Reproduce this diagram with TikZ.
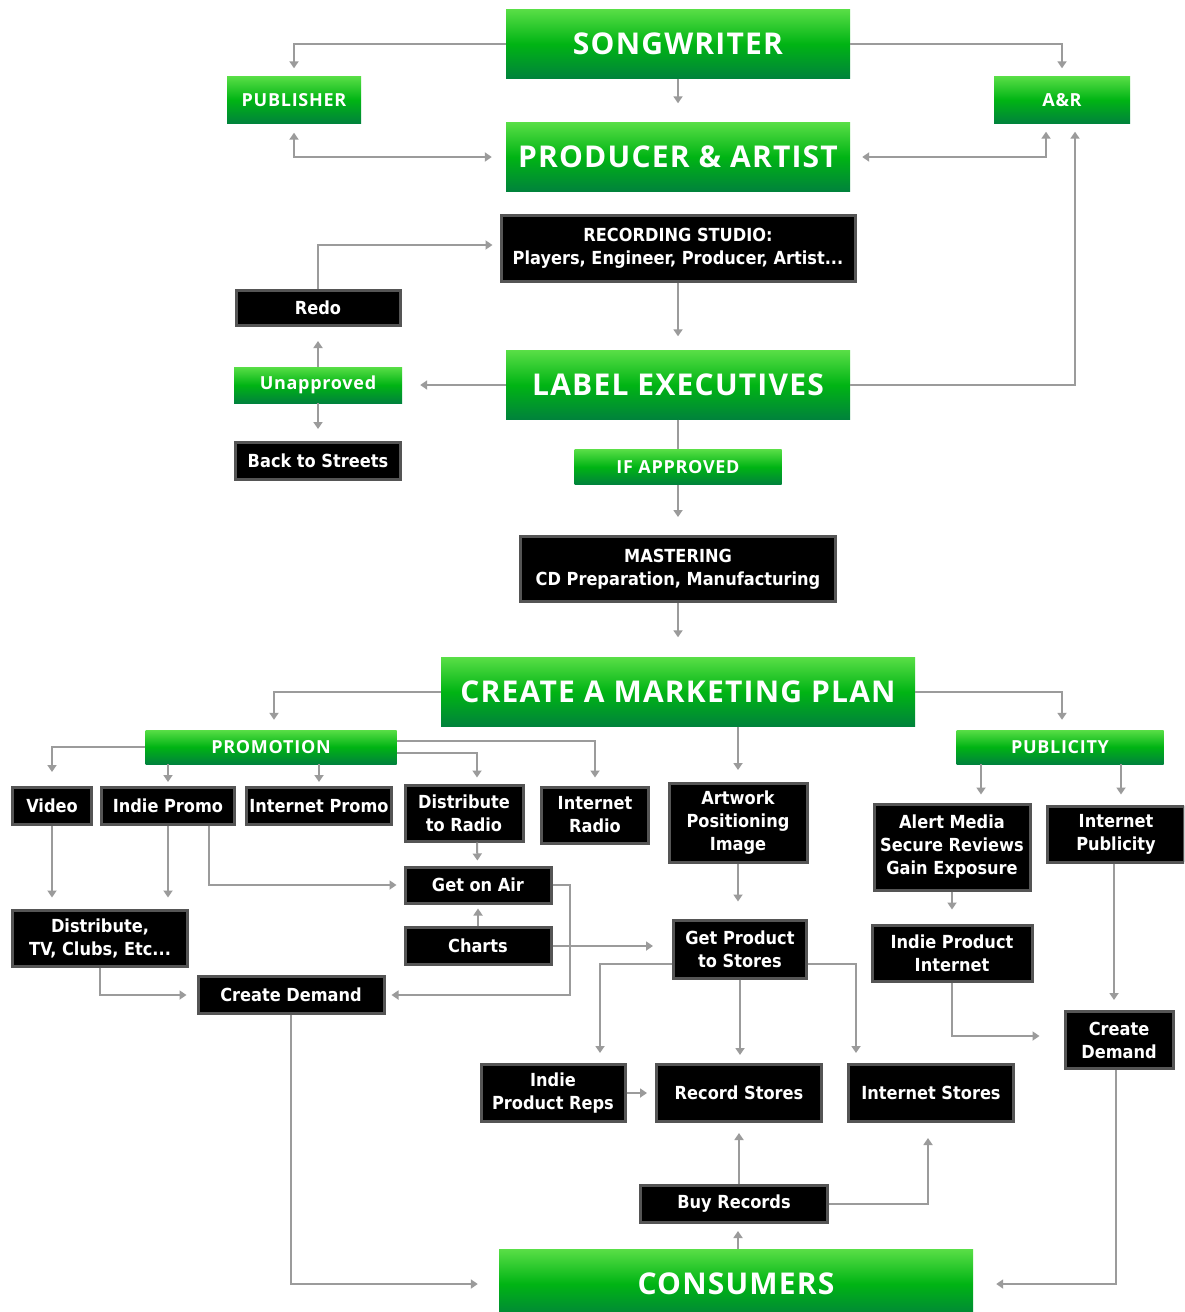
\documentclass[tikz,border=0pt]{standalone}
\usepackage{fontspec}
\setmainfont{DejaVu Sans}
\newfontfamily\titlefont[LetterSpace=4]{Open Sans}
\newfontfamily\boxfont{DejaVu Sans Condensed}
\usetikzlibrary{arrows.meta}

\definecolor{gtop}{RGB}{88,222,70}
\definecolor{gmid}{RGB}{0,180,20}
\definecolor{gbot}{RGB}{0,130,60}
\definecolor{edge}{RGB}{85,85,85}
\definecolor{wire}{RGB}{155,155,155}

\begin{document}
\begin{tikzpicture}[x=1pt,y=-1pt,
    gbox/.style={shading=axis,top color=gtop,bottom color=gbot,middle color=gmid,
        text=white,inner sep=0pt,align=center},
    gbig/.style={gbox,minimum width=344pt,minimum height=69pt,
        font=\titlefont\bfseries\fontsize{30}{36}\selectfont},
    gsmall/.style={gbox,font=\titlefont\bfseries\fontsize{18}{22}\selectfont},
    bbox/.style={fill=black,draw=edge,line width=3pt,text=white,inner sep=0pt,
        align=center,font=\boxfont\bfseries\fontsize{18}{23}\selectfont},
    arr/.style={draw=wire,line width=2pt,-{Triangle[width=9pt,length=7pt]},shorten >=8pt},
    darr/.style={arr,{Triangle[width=9pt,length=7pt]}-{Triangle[width=9pt,length=7pt]},shorten <=9pt},
    ]
    \useasboundingbox (0,0) rectangle (1184,1312);
    \clip (0,0) rectangle (1184,1312);
    \fill[white] (0,0) rectangle (1184,1312);

    % top: writing and recording
    \node[gbig] (song) at (678,44) {SONGWRITER};
    \node[gsmall,minimum width=134pt,minimum height=47pt] (pub) at (294,100) {PUBLISHER};
    \node[gsmall,minimum width=136pt,minimum height=47pt] (anr) at (1062,100) {A\&R};
    \node[gbig] (prod) at (678,157) {PRODUCER \& ARTIST};
    \node[bbox,minimum width=354pt,minimum height=66pt] (studio) at (678,248)
        {RECORDING STUDIO:\\Players, Engineer, Producer, Artist...};
    \node[bbox,minimum width=164pt,minimum height=35pt] (redo) at (318,308) {Redo};
    \node[gbig] (label) at (678,385) {LABEL EXECUTIVES};
    \node[gsmall,minimum width=168pt,minimum height=36pt] (unappr) at (318,385) {Unapproved};
    \node[bbox,minimum width=165pt,minimum height=37pt] (back) at (318,461) {Back to Streets};
    \node[gsmall,minimum width=207pt,minimum height=35pt] (ifappr) at (678,467) {IF APPROVED};
    \node[bbox,minimum width=315pt,minimum height=65pt] (master) at (678,569)
        {MASTERING\\CD Preparation, Manufacturing};

    % marketing
    \node[gbig,minimum width=474pt] (plan) at (678,692) {CREATE A MARKETING PLAN};
    \node[gsmall,minimum width=251pt,minimum height=34pt] (promo) at (271,747) {PROMOTION};
    \node[gsmall,minimum width=207pt,minimum height=34pt] (publ) at (1060,747) {PUBLICITY};
    \node[bbox,minimum width=79pt,minimum height=37pt] (video) at (52,806) {Video};
    \node[bbox,minimum width=133pt,minimum height=37pt] (ipromo) at (168,806) {Indie Promo};
    \node[bbox,minimum width=145pt,minimum height=37pt] (netpromo) at (319,806) {Internet Promo};
    \node[bbox,minimum width=118pt,minimum height=56pt] (dradio) at (464,813) {Distribute\\to Radio};
    \node[bbox,minimum width=107pt,minimum height=56pt] (netradio) at (595,815) {Internet\\Radio};
    \node[bbox,minimum width=138pt,minimum height=79pt] (artwork) at (738,823) {Artwork\\Positioning\\Image};
    \node[bbox,minimum width=156pt,minimum height=86pt] (alert) at (952,847)
        {Alert Media\\Secure Reviews\\Gain Exposure};
    \node[bbox,minimum width=137pt,minimum height=56pt] (netpubl) at (1116,834) {Internet\\Publicity};
    \node[bbox,minimum width=175pt,minimum height=56pt] (distv) at (100,938) {Distribute,\\TV, Clubs, Etc...};
    \node[bbox,minimum width=146pt,minimum height=36pt] (onair) at (478,885) {Get on Air};
    \node[bbox,minimum width=146pt,minimum height=37pt] (charts) at (478,946) {Charts};
    \node[bbox,minimum width=133pt,minimum height=58pt] (stores) at (740,949) {Get Product\\to Stores};
    \node[bbox,minimum width=160pt,minimum height=56pt] (ipinet) at (952,953) {Indie Product\\Internet};
    \node[bbox,minimum width=186pt,minimum height=37pt] (cdl) at (291,995) {Create Demand};
    \node[bbox,minimum width=108pt,minimum height=57pt] (cdr) at (1119,1040) {Create\\Demand};

    % selling
    \node[bbox,minimum width=144pt,minimum height=57pt] (reps) at (553,1093) {Indie\\Product Reps};
    \node[bbox,minimum width=165pt,minimum height=57pt] (recst) at (739,1093) {Record Stores};
    \node[bbox,minimum width=165pt,minimum height=57pt] (netst) at (931,1093) {Internet Stores};
    \node[bbox,minimum width=187pt,minimum height=37pt] (buy) at (734,1204) {Buy Records};
    \node[gbig,minimum width=474pt] (cons) at (736,1284) {CONSUMERS};

    % connectors, top half
    \draw[arr] (song.west) -| (pub.north);
    \draw[arr] (song.east) -| (anr.north);
    \draw[arr,shorten >=19pt] (song) -- (prod);
    \draw[darr,shorten >=14pt] (pub.south) |- (prod.west);
    \draw[darr,shorten <=12pt] (prod.east) -| ([xshift=-16pt]anr.south);
    \draw[arr] (label.east) -| ([xshift=13pt]anr.south);
    \draw[arr,shorten >=14pt] (studio) -- (label);
    \draw[arr,shorten >=7pt] (redo.north) |- ([yshift=3pt]studio.west);
    \draw[arr,shorten >=18pt] (label) -- (unappr);
    \draw[arr,shorten >=14pt] (unappr) -- (redo);
    \draw[arr,shorten >=12pt] (unappr) -- (back);
    \draw[draw=wire,line width=2pt] (label) -- (ifappr);
    \draw[arr,shorten >=18pt] (ifappr) -- (master);
    \draw[arr,shorten >=20pt] (master) -- (plan);

    % connectors, marketing
    \draw[arr,shorten >=10pt] (plan.west) -| ([xshift=3pt]promo.north);
    \draw[arr,shorten >=10pt] (plan.east) -| ([xshift=2pt]publ.north);
    \draw[arr,shorten >=12pt] (artwork.north |- plan.south) -- (artwork.north);
    \draw[arr,shorten >=14pt] (promo.west) -| (video.north);
    \draw[arr,shorten >=4pt] (ipromo.north |- promo.south) -- (ipromo.north);
    \draw[arr,shorten >=4pt] (netpromo.north |- promo.south) -- (netpromo.north);
    \draw[arr,shorten >=6pt] ([yshift=-6pt]promo.east) -| ([xshift=13pt]dradio.north);
    \draw[arr] ([yshift=6pt]promo.east) -| (netradio.north);
    \draw[arr,shorten >=11pt] (video.south) -- (video.south |- distv.north);
    \draw[arr,shorten >=11pt] (ipromo.south) -- (ipromo.south |- distv.north);
    \draw[arr,shorten >=7pt] ([xshift=41pt]ipromo.south) |- (onair.west);
    \draw[arr,shorten >=5pt] ([xshift=13pt]dradio.south) -- (onair);
    \draw[arr,shorten >=4pt] (charts) -- (onair);
    \draw[arr,shorten >=6pt] (onair.east) -- ++(17,0) |- (cdl.east);
    \draw[arr,shorten >=19pt] (charts.east) -- (charts.east -| stores.west);
    \draw[arr,shorten >=10pt] (distv.south) |- (cdl.west);
    \draw[arr,shorten >=17pt] (artwork.south) -- (artwork.south |- stores.north);
    \draw[arr] ([xshift=-79pt]publ.south) -- ([xshift=-79pt]publ.south |- alert.north);
    \draw[arr,shorten >=10pt] ([xshift=61pt]publ.south) -- ([xshift=61pt]publ.south |- netpubl.north);
    \draw[arr,shorten >=14pt] (alert) -- (ipinet);
    \draw[arr,shorten >=10pt] ([xshift=-2pt]netpubl.south) -- ([xshift=-2pt]netpubl.south |- cdr.north);
    \draw[arr,shorten >=24pt] (ipinet.south) |- ([yshift=4pt]cdr.west);

    % connectors, selling
    \draw[arr,shorten >=10pt] ([yshift=-15pt]stores.west) -| ([xshift=47pt]reps.north);
    \draw[arr] (stores.south) -- (stores.south |- recst.north);
    \draw[arr,shorten >=10pt] ([yshift=-15pt]stores.east) -| ([xshift=-75pt]netst.north);
    \draw[arr] (reps) -- (recst);
    \draw[arr,shorten >=10pt] (recst.south |- buy.north) -- (recst.south);
    \draw[arr,shorten >=15pt] (buy.east) -| ([xshift=-3pt]netst.south);
    \draw[arr,shorten >=7pt] ([xshift=2pt]cons.north) -- ([xshift=2pt]cons.north |- buy.south);
    \draw[arr,shorten >=21pt] (cdl.south) |- (cons.west);
    \draw[arr,shorten >=23pt] ([xshift=-3pt]cdr.south) |- (cons.east);
\end{tikzpicture}
\end{document}
